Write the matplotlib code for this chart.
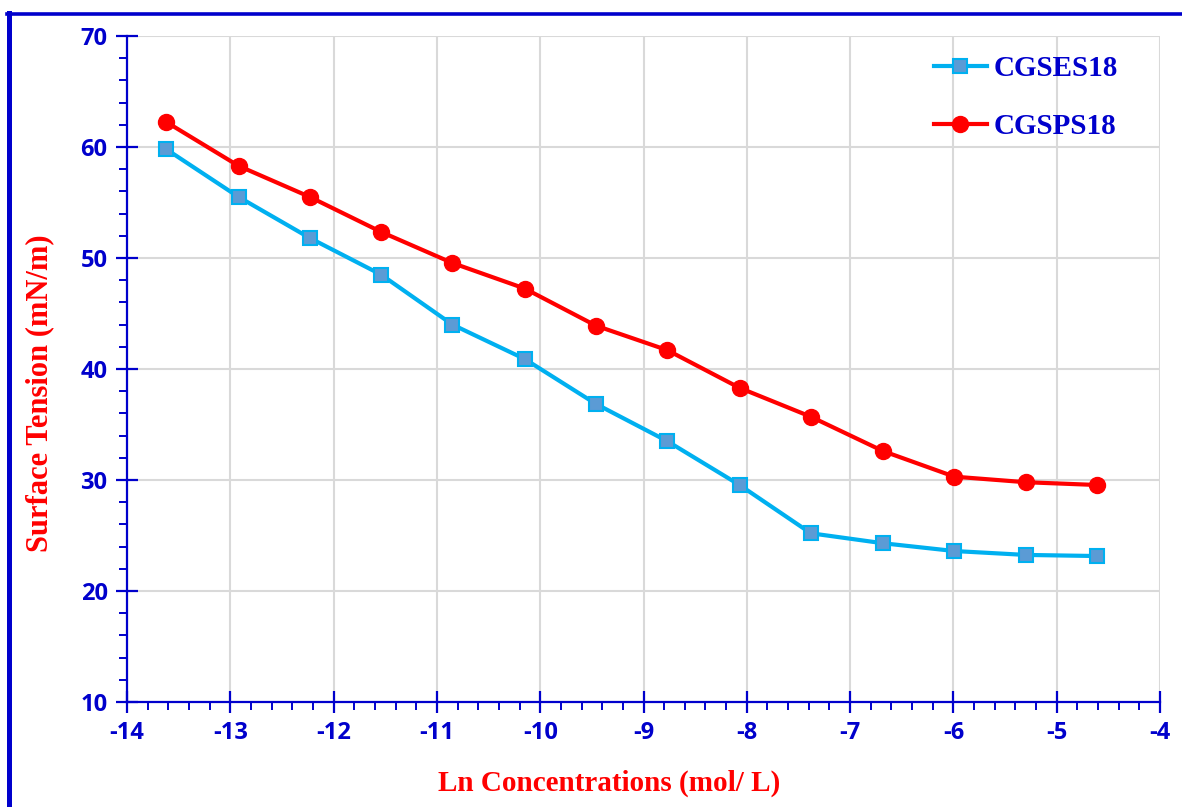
import matplotlib
matplotlib.use("Agg")
import matplotlib.pyplot as plt
from matplotlib.lines import Line2D
from matplotlib.ticker import MultipleLocator

# ln of concentration (mol/L)
ln_conc = [-13.62, -12.92, -12.23, -11.54, -10.85, -10.15, -9.46,
           -8.77, -8.07, -7.38, -6.68, -5.99, -5.30, -4.61]
st_cgses18 = [59.8, 55.5, 51.8, 48.5, 44.0, 40.9, 36.85,
              33.5, 29.55, 25.2, 24.3, 23.6, 23.25, 23.15]
st_cgsps18 = [62.25, 58.3, 55.5, 52.35, 49.55, 47.25, 43.9,
              41.7, 38.3, 35.7, 32.6, 30.3, 29.8, 29.55]
x_ticks = [-14, -13, -12, -11, -10, -9, -8, -7, -6, -5, -4]
y_ticks = [10, 20, 30, 40, 50, 60, 70]

AX_BLUE = "#0000CC"
GRID = "#D9D9D9"
TICK_FONT = {"family": "Open Sans", "weight": "bold", "size": 17, "color": AX_BLUE}
LABEL_FONT = {"family": "Liberation Serif", "weight": "bold", "color": "#FF0000"}

fig = plt.figure(figsize=(11.82, 8.07), dpi=100)
ax = fig.add_axes([127 / 1182, 1 - 702 / 807, (1160 - 127) / 1182, (702 - 36) / 807])

ax.plot(ln_conc, st_cgses18, color="#00B0F0", lw=3, marker="s", ms=10,
        mfc="#5B9BD5", mec="#00B0F0", mew=1.5, label="CGSES18", zorder=3)
ax.plot(ln_conc, st_cgsps18, color="#FF0000", lw=3, marker="o", ms=11.5,
        mfc="#FF0000", mec="#FF0000", label="CGSPS18", zorder=3)

ax.set_xticks(x_ticks)
ax.set_xticklabels([str(t) for t in x_ticks], **TICK_FONT)
ax.set_yticks(y_ticks)
ax.set_yticklabels([str(t) for t in y_ticks], **TICK_FONT)
ax.xaxis.set_minor_locator(MultipleLocator(0.2))
ax.yaxis.set_minor_locator(MultipleLocator(2))
ax.set_xlim(-14, -4)
ax.set_ylim(10, 70)
ax.grid(True, which="major", color=GRID, lw=1.5, zorder=0)
ax.set_axisbelow(True)

for side in ("top", "right"):
    ax.spines[side].set_visible(False)
for side in ("left", "bottom"):
    ax.spines[side].set_color(AX_BLUE)
    ax.spines[side].set_linewidth(1.6)

ax.tick_params(which="major", direction="inout", length=16, width=1.6,
               color=AX_BLUE, pad=6)
ax.tick_params(which="minor", direction="out", length=6, width=1.4, color=AX_BLUE)

ax.set_xlabel("Ln Concentrations (mol/ L)", fontsize=21, **LABEL_FONT)
ax.set_ylabel("Surface Tension (mN/m)", fontsize=22, **LABEL_FONT)
ax.xaxis.set_label_coords(0.467, -0.101)
ax.yaxis.set_label_coords(-0.07, 0.464)

leg = ax.legend(loc="upper right", bbox_to_anchor=(0.985, 1.011), frameon=False,
                prop={"family": "Liberation Serif", "weight": "bold", "size": 21},
                handlelength=1.8, handletextpad=0.25, labelspacing=1.08)
for t in leg.get_texts():
    t.set_color(AX_BLUE)

# blue frame at left and top of the image
fig.add_artist(Line2D([9.5 / 1182, 9.5 / 1182], [0, 1 - 13 / 807],
                      transform=fig.transFigure, color=AX_BLUE, lw=3.6))
fig.add_artist(Line2D([7 / 1182, 1], [1 - 13.5 / 807, 1 - 13.5 / 807],
                      transform=fig.transFigure, color=AX_BLUE, lw=2.6))

fig.savefig("out.png", dpi=100)
